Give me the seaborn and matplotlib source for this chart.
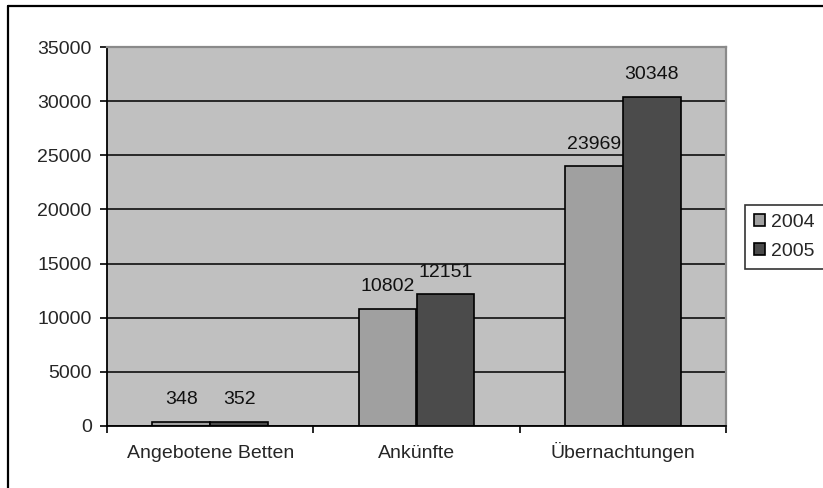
import pandas as pd
import numpy as np
import matplotlib
matplotlib.use("Agg")
import matplotlib.pyplot as plt
from matplotlib.lines import Line2D
from matplotlib.ticker import FixedLocator
import seaborn as sns

# ================
# Data
# ================
categories = ["Angebotene Betten", "Ankünfte", "Übernachtungen"]
years = ["2004", "2005"]
values_2004 = [348, 10802, 23969]
values_2005 = [352, 12151, 30348]
y_ticks = [0, 5000, 10000, 15000, 20000, 25000, 30000, 35000]

df = pd.DataFrame({
    "Kategorie": categories * 2,
    "Jahr": [years[0]] * 3 + [years[1]] * 3,
    "Wert": values_2004 + values_2005,
})

# ================
# Style
# ================
sns.set_style("white")
plt.rcParams["font.family"] = ["Liberation Sans", "DejaVu Sans"]
plt.rcParams["font.size"] = 14

fig = plt.figure(figsize=(8.23, 4.88), dpi=100)
ax = fig.add_axes([107 / 823, 1 - 426 / 488, (726 - 107) / 823, (426 - 47) / 488])
ax.set_facecolor("#c0c0c0")

sns.barplot(data=df, x="Kategorie", y="Wert", hue="Jahr", order=categories,
            hue_order=years, palette=["#a0a0a0", "#4b4b4b"], width=0.56,
            edgecolor="black", linewidth=1.2, saturation=1, ax=ax)

for cont in ax.containers:
    ax.bar_label(cont, fmt="%d", padding=10, fontsize=14, color="#111111")

# ================
# Axes
# ================
ax.set_xlim(-0.5, 2.5)
ax.set_ylim(0, 35000)
ax.set_yticks(y_ticks)
ax.set_yticklabels([str(t) for t in y_ticks])
ax.set_axisbelow(True)
ax.yaxis.grid(True, color="black", linewidth=1.1)
ax.xaxis.grid(False)
ax.set_xlabel("")
ax.set_ylabel("")

ax.xaxis.set_minor_locator(FixedLocator([-0.5, 0.5, 1.5, 2.5]))
ax.tick_params(axis="x", which="major", length=0, pad=23, labelsize=14)
ax.tick_params(axis="x", which="minor", length=5, width=1.2, color="black",
               direction="out", bottom=True)
ax.tick_params(axis="y", length=5, width=1.2, color="black", direction="out",
               left=True, pad=6, labelsize=14)
for lbl in ax.get_xticklabels():
    lbl.set_verticalalignment("baseline")

for side in ["left", "bottom"]:
    ax.spines[side].set_color("black")
    ax.spines[side].set_linewidth(1.3)
for side in ["top", "right"]:
    ax.spines[side].set_color("#8a8a8a")
    ax.spines[side].set_linewidth(1.6)

# ================
# Legend
# ================
leg = ax.legend(loc="center left", bbox_to_anchor=(745 / 823, 1 - 237 / 488),
                bbox_transform=fig.transFigure, frameon=True, fancybox=False,
                fontsize=14, handlelength=0.6, handleheight=0.6,
                handletextpad=0.3, borderpad=0.45, labelspacing=0.6,
                borderaxespad=0)
leg.get_frame().set_edgecolor("black")
leg.get_frame().set_linewidth(1.2)
leg.set_title(None)

# figure border (left and top only)
fig.add_artist(Line2D([8 / 823, 8 / 823], [0, 1 - 6 / 488], color="black",
                      linewidth=1.6, transform=fig.transFigure))
fig.add_artist(Line2D([8 / 823, 1], [1 - 6 / 488, 1 - 6 / 488], color="black",
                      linewidth=1.6, transform=fig.transFigure))

fig.savefig("out.png", dpi=100)
